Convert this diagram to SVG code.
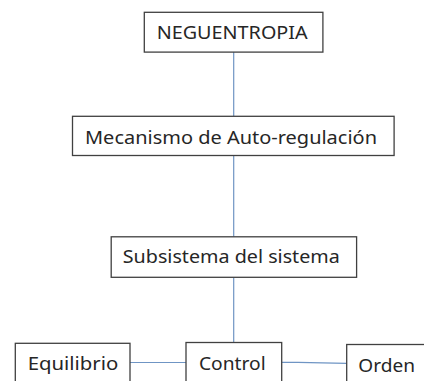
<svg xmlns="http://www.w3.org/2000/svg" width="424" height="381" viewBox="0 0 424 381">
<style>
.box{fill:#fff;stroke:#404040;stroke-width:1.3}
.lbl{font-family:"Noto Sans","Open Sans","Liberation Sans",sans-serif;font-size:18.5px;fill:#262626;text-anchor:middle}
.con{stroke:#6f95c4;stroke-width:1.2;fill:none}
</style>
<rect width="424" height="381" fill="#fff"/>
<g id="connectors">
<line class="con" x1="233.7" y1="52" x2="233.7" y2="116"/>
<line class="con" x1="233.7" y1="155.5" x2="233.7" y2="236.7"/>
<line class="con" x1="233.7" y1="277.3" x2="233.7" y2="342.5"/>
<line class="con" x1="130" y1="362.5" x2="186" y2="362.5"/>
<polyline class="con" points="281.7,362.3 298,362.3 346.7,363.3"/>
</g>
<g id="neguentropia">
<rect class="box" x="144.3" y="12.3" width="178.6" height="39.8"/>
<text class="lbl" x="232.2" y="39" textLength="151" lengthAdjust="spacingAndGlyphs">NEGUENTROPIA</text>
</g>
<g id="mecanismo">
<rect class="box" x="72.5" y="116.3" width="321.6" height="39.2"/>
<text class="lbl" x="231" y="143.5" textLength="292" lengthAdjust="spacingAndGlyphs">Mecanismo de Auto-regulación</text>
</g>
<g id="subsistema">
<rect class="box" x="111.2" y="236.8" width="245.4" height="40.5"/>
<text class="lbl" x="231.3" y="263.3" textLength="217" lengthAdjust="spacingAndGlyphs">Subsistema del sistema</text>
</g>
<g id="equilibrio">
<rect class="box" x="15.3" y="343.3" width="114.7" height="45"/>
<text class="lbl" x="73" y="370" textLength="90.6" lengthAdjust="spacingAndGlyphs">Equilibrio</text>
</g>
<g id="control">
<rect class="box" x="186" y="342.5" width="95.7" height="45"/>
<text class="lbl" x="232.3" y="370" textLength="66.7" lengthAdjust="spacingAndGlyphs">Control</text>
</g>
<g id="orden">
<rect class="box" x="346.7" y="344.5" width="90" height="45"/>
<text class="lbl" x="386.7" y="372" textLength="56.7" lengthAdjust="spacingAndGlyphs">Orden</text>
</g>
</svg>
